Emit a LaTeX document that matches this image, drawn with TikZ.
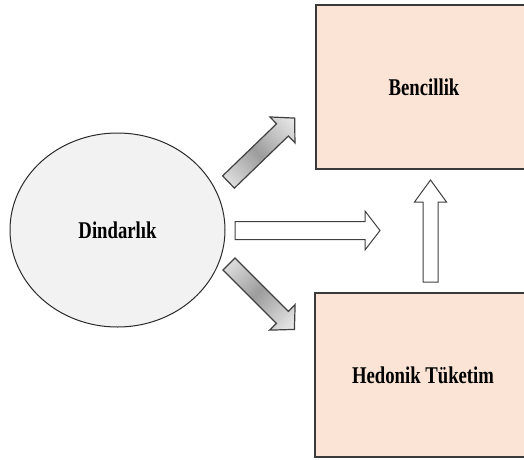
\documentclass[tikz,border=0pt]{standalone}
\usepackage{fontspec}
\setmainfont{Liberation Serif}
\newfontfamily\labelfont[FakeStretch=0.78]{Liberation Serif}
\usetikzlibrary{shapes.geometric}
\definecolor{boxfill}{HTML}{FBE4D5}
\definecolor{boxline}{HTML}{3A3A3A}
\definecolor{ovalfill}{HTML}{F2F2F2}
\definecolor{ovalline}{HTML}{2A2A2A}
\definecolor{arrowline}{HTML}{404040}
\definecolor{metallight}{HTML}{F2F2F2}
\definecolor{metaldark}{HTML}{9C9C9C}
\tikzset{
  % outline of a block arrow pointing at the given angle:
  % length / shaft half width / head half width / head length / angle
  pics/blockarrow/.style n args={5}{code={
    \path[pic actions] ([rotate=#5]0,-#2) -- ([rotate=#5]#1-#4,-#2)
      -- ([rotate=#5]#1-#4,-#3) -- ([rotate=#5]#1,0)
      -- ([rotate=#5]#1-#4,#3) -- ([rotate=#5]#1-#4,#2)
      -- ([rotate=#5]0,#2) -- cycle;
  }},
  % the same arrow, filled with a light-dark-light gradient along its length
  pics/metalarrow/.style n args={5}{code={
    \begin{scope}
      \clip ([rotate=#5]0,-#2) -- ([rotate=#5]#1-#4,-#2)
        -- ([rotate=#5]#1-#4,-#3) -- ([rotate=#5]#1,0)
        -- ([rotate=#5]#1-#4,#3) -- ([rotate=#5]#1-#4,#2)
        -- ([rotate=#5]0,#2) -- cycle;
      \foreach \i in {0,...,45}{
        \pgfmathtruncatemacro\pct{max(0,100*(1-abs((\i+0.5)/46-0.45)/0.6))}
        \fill[metaldark!\pct!metallight]
          ([rotate=#5]\i*#1/46,-#3) -- ([rotate=#5]\i*#1/46+#1/46+0.4,-#3)
          -- ([rotate=#5]\i*#1/46+#1/46+0.4,#3) -- ([rotate=#5]\i*#1/46,#3) -- cycle;
      }
    \end{scope}
    \path[pic actions] ([rotate=#5]0,-#2) -- ([rotate=#5]#1-#4,-#2)
      -- ([rotate=#5]#1-#4,-#3) -- ([rotate=#5]#1,0)
      -- ([rotate=#5]#1-#4,#3) -- ([rotate=#5]#1-#4,#2)
      -- ([rotate=#5]0,#2) -- cycle;
  }},
}
\begin{document}
\begin{tikzpicture}[x=1pt,y=-1pt,
  lbl/.style={font=\labelfont\bfseries\fontsize{24}{28}\selectfont, text=black},
  box/.style={lbl, draw=boxline, line width=1.3pt, fill=boxfill,
    minimum width=216pt, minimum height=164pt, inner sep=0pt},
  oval/.style={lbl, ellipse, draw=ovalline, line width=1pt, fill=ovalfill,
    minimum width=215pt, minimum height=194pt, inner sep=0pt},
  hollow/.style={draw=arrowline, line width=1pt, fill=white, line join=miter},
  metal/.style={draw=arrowline, line width=1.2pt, line join=miter},
]
\useasboundingbox (0,0) rectangle (524,459);
\clip (0,0) rectangle (524,459);

% concepts
\node[oval] (din) at (117.5,230) {Dindarlık};
\node[box]  (ben) at (424,87)  {Bencillik};
\node[box]  (hed) at (423,375) {Hedonik Tüketim};

% anchor points of the block arrows
\coordinate (upTail)  at (228.5,182);
\coordinate (midTail) at (235,230.5);
\coordinate (lowTail) at (229,264);
\coordinate (verTail) at (430.5,282);

% block arrows
\pic[metal] at (upTail) {metalarrow={92}{8.5}{18}{17}{44}};
\pic[hollow] at (midTail) {blockarrow={145}{9}{19.5}{15}{0}};
\pic[metal] at (lowTail) {metalarrow={92.5}{8.5}{18}{17}{-45}};
\pic[hollow] at (verTail) {blockarrow={102}{7.5}{16}{22}{90}};
\end{tikzpicture}
\end{document}
